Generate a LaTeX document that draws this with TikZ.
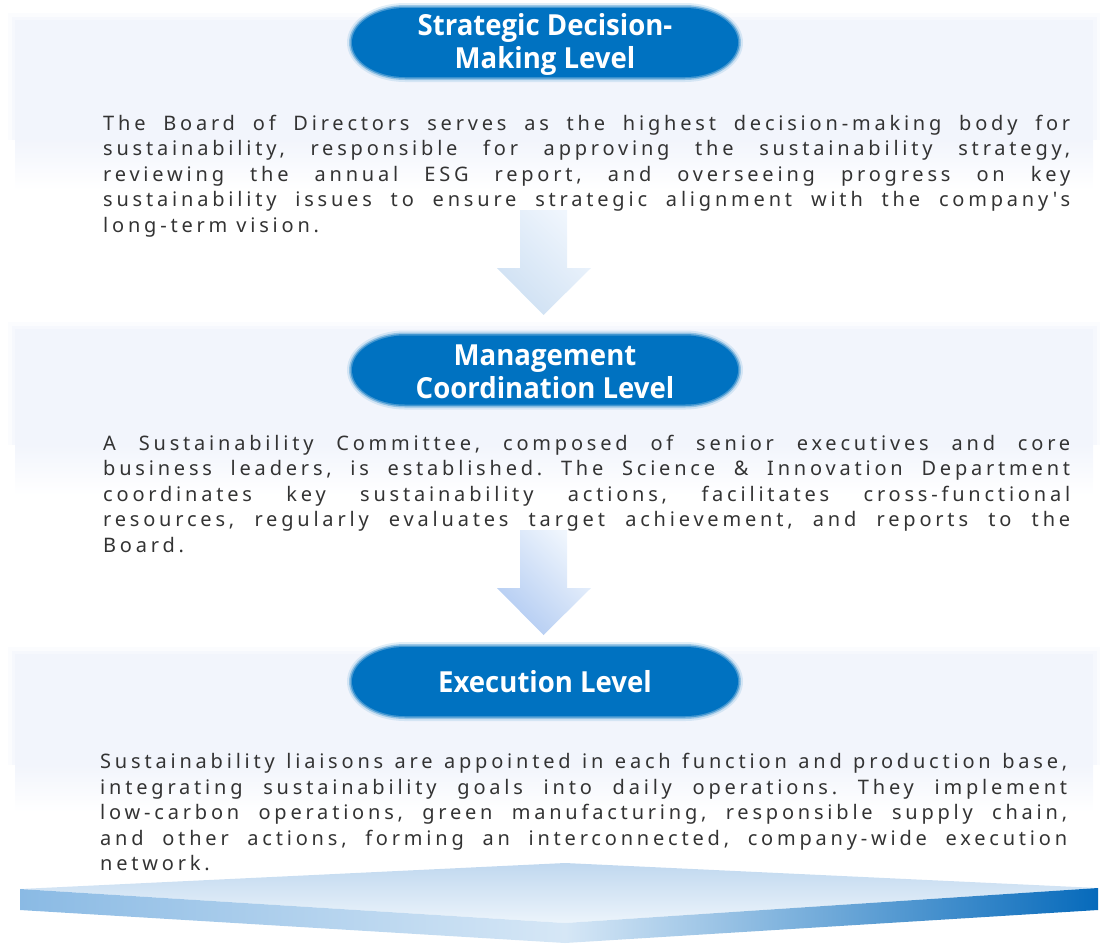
\documentclass[tikz,border=0pt]{standalone}
\usepackage{fontspec}
\setmainfont{Noto Sans}
\newfontfamily\bodyfont[LetterSpace=19]{Noto Sans}
\newfontfamily\titlefont[FakeStretch=0.95]{Open Sans}
\usetikzlibrary{positioning,calc}
\definecolor{pillblue}{RGB}{0,114,193}
\definecolor{panelblue}{RGB}{242,245,252}
\definecolor{bodygray}{RGB}{51,51,51}
\definecolor{arrowlight}{RGB}{240,246,253}
\definecolor{arrowdarkA}{RGB}{206,224,243}
\definecolor{arrowdarkB}{RGB}{178,203,242}
\definecolor{faceback}{RGB}{192,216,239}
\definecolor{facefront}{RGB}{236,244,251}
\definecolor{sideleft}{RGB}{138,186,228}
\definecolor{sidemid}{RGB}{214,231,246}
\definecolor{sideright}{RGB}{6,106,187}
\hyphenpenalty=10000
\exhyphenpenalty=10000
\tolerance=10000
\hbadness=10000

% soft pill behind a level title: #1 = centre x, #2 = centre y
\newcommand{\levelpill}[2]{%
  \foreach \g/\o in {5/0.12,3/0.3,1.5/0.55,0/1} {
    \fill[pillblue, opacity=\o] (#1-140, #2-34.5-\g) -- (#1+140, #2-34.5-\g)
      arc[start angle=-90, end angle=90, x radius=53+\g, y radius=34.5+\g]
      -- (#1-140, #2+34.5+\g)
      arc[start angle=90, end angle=270, x radius=53+\g, y radius=34.5+\g] -- cycle;
  }}
% light panel: #1 = top, #2 = start of fade, #3 = bottom
\newcommand{\levelpanel}[3]{%
  \foreach \g/\o in {7/0.3,3.5/0.6,0/1} {
    \fill[panelblue, opacity=\o] (15-\g, #1-\g) rectangle (1093+\g, #2);
  }
  \shade[top color=panelblue, bottom color=white] (15, #2) rectangle (1093, #3);}
% down arrow: #1 = top of shaft, #2 = dark colour
\newcommand{\levelarrow}[2]{%
  \shade[top color=arrowlight, bottom color=#2, shading angle=-45]
    (520,#1) -- (567,#1) -- (567,#1+58) -- (591,#1+58) -- (543.5,#1+105)
    -- (497,#1+58) -- (520,#1+58) -- cycle;}

\begin{document}
\frenchspacing
\begin{tikzpicture}[
    x=1pt, y=-1pt,
    pilltitle/.style={text=white, align=center, inner sep=0pt,
      font=\titlefont\bfseries\fontsize{29}{33}\selectfont},
    bodytext/.style={anchor=north west, text width=967pt, align=justify,
      inner sep=0pt, text=bodygray,
      font=\bodyfont\fontsize{20}{25.5}\selectfont}
]
\useasboundingbox (0,0) rectangle (1105,943);

% Panels
\levelpanel{20}{140}{190}
\levelpanel{329}{445}{495}
\levelpanel{654}{765}{812}

% Arrows between the levels
\levelarrow{210}{arrowdarkA}
\levelarrow{530}{arrowdarkB}

% Level titles
\levelpill{545}{42.5}
\levelpill{545}{370}
\levelpill{545}{681.5}
\node[pilltitle] (strat) at (545,44) {Strategic Decision-\\Making Level};
\node[pilltitle] (mgmt) at (545,371.5) {Management\\Coordination Level};
\node[pilltitle, anchor=base] (exec) at (545,692) {Execution Level};

% Descriptions
\node[bodytext] (strattext) at (103,112.15) {\strut The Board of Directors serves as the highest decision-making body for\linebreak
sustainability, responsible for approving the sustainability strategy,\linebreak
reviewing the annual ESG report, and overseeing progress on key\linebreak
sustainability issues to ensure strategic alignment with the company's\linebreak
long-term vision.};
\node[bodytext] (mgmttext) at (103,432.15) {\strut A Sustainability Committee, composed of senior executives and core\linebreak
business leaders, is established. The Science \& Innovation Department\linebreak
coordinates key sustainability actions, facilitates cross-functional\linebreak
resources, regularly evaluates target achievement, and reports to the\linebreak
Board.};
\node[bodytext] (exectext) at (100,750.45) {\strut Sustainability liaisons are appointed in each function and production base,\linebreak
integrating sustainability goals into daily operations. They implement\linebreak
low-carbon operations, green manufacturing, responsible supply chain,\linebreak
and other actions, forming an interconnected, company-wide execution\linebreak
network.};

% Base platform
\coordinate (baseL) at (20,889);
\coordinate (baseB) at (565,863);
\coordinate (baseR) at (1098,888);
\coordinate (baseF) at (565,923);
\shade[top color=faceback, bottom color=facefront] (baseL) -- (baseB) -- (baseR) -- (baseF) -- cycle;
\shade[left color=sideleft, right color=sidemid] (baseL) -- (baseF) -- ++(0,20) -- (20,910) -- cycle;
\shade[left color=sidemid, right color=sideright] (baseF) -- (baseR) -- (1098,910) -- (565,943) -- cycle;
\end{tikzpicture}
\end{document}
